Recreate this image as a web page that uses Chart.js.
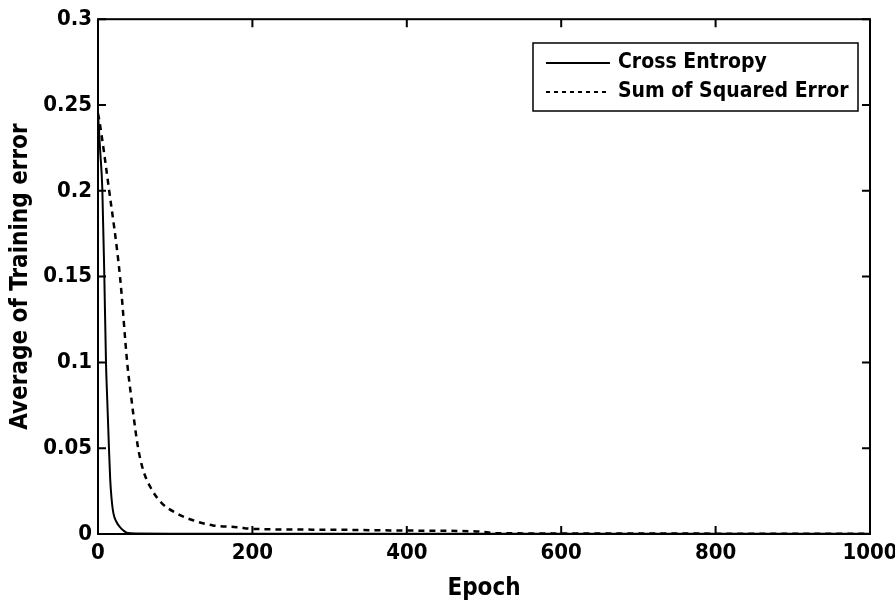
<!DOCTYPE html>
<html lang="en">
<head>
  <meta charset="UTF-8">
  <title>Average of Training error vs Epoch</title>
  <script src="https://cdn.jsdelivr.net/npm/chart.js"></script>
  <style>
    html, body {
      margin: 0;
      padding: 0;
      background: #fff;
    }
    #wrap {
      width: 895px;
      height: 603px;
    }
  </style>
</head>
<body>
  <div id="wrap"><canvas id="errChart" width="895" height="603"></canvas></div>

  <script>
    // values
    const ceEpochs = [0, 3, 5.6, 8.2, 10.4, 12, 14.2, 15.8, 17.5, 20, 24, 28.5, 33, 37, 50, 100, 1000];
    const ceValues = [0.245, 0.222, 0.201, 0.15, 0.099, 0.078, 0.05, 0.032, 0.021, 0.012, 0.007, 0.004, 0.002, 0.0008, 0.0003, 0.0002, 0.0001];

    const sseEpochs = [0, 1.7, 14.2, 28.5, 38, 42.7, 45.7, 52, 58.7, 69.5, 82.5, 102, 123, 149, 180, 200, 300, 400, 490, 520, 1000];
    const sseValues = [0.245, 0.241, 0.201, 0.15, 0.099, 0.081, 0.07, 0.05, 0.037, 0.026, 0.018, 0.012, 0.008, 0.005, 0.004, 0.003, 0.0025, 0.002, 0.0015, 0.0004, 0.0002];

    const xTicks = [0, 200, 400, 600, 800, 1000];
    const yTicks = [0, 0.05, 0.1, 0.15, 0.2, 0.25, 0.3];

    const FONT = "'Liberation Sans Narrow', 'DejaVu Sans Condensed', sans-serif";

    function toPoints(xs, ys) {
      return xs.map((x, i) => ({ x: x, y: ys[i] }));
    }

    // box around the plot with inward ticks on all four sides (MATLAB style)
    const boxPlugin = {
      id: 'boxTicks',
      afterDatasetsDraw(chart) {
        const ctx = chart.ctx;
        const a = chart.chartArea;
        const xs = chart.scales.x;
        const ys = chart.scales.y;
        const len = 8;
        ctx.save();
        ctx.strokeStyle = '#000';
        ctx.lineWidth = 2;
        ctx.setLineDash([]);
        ctx.strokeRect(a.left, a.top, a.right - a.left, a.bottom - a.top);
        ctx.beginPath();
        xTicks.forEach(v => {
          const px = xs.getPixelForValue(v);
          ctx.moveTo(px, a.bottom); ctx.lineTo(px, a.bottom - len);
          ctx.moveTo(px, a.top); ctx.lineTo(px, a.top + len);
        });
        yTicks.forEach(v => {
          const py = ys.getPixelForValue(v);
          ctx.moveTo(a.left, py); ctx.lineTo(a.left + len, py);
          ctx.moveTo(a.right, py); ctx.lineTo(a.right - len, py);
        });
        ctx.stroke();

        // legend box in the upper right corner
        const bx = 533, by = 43, bw = 325, bh = 68;
        ctx.fillStyle = '#fff';
        ctx.fillRect(bx, by, bw, bh);
        ctx.lineWidth = 1.5;
        ctx.strokeRect(bx, by, bw, bh);
        ctx.font = 'bold 21px ' + FONT;
        ctx.textBaseline = 'middle';
        ctx.textAlign = 'left';
        chart.data.datasets.forEach((ds, i) => {
          const cy = by + 20 + i * 29;
          ctx.beginPath();
          ctx.lineWidth = 2;
          ctx.setLineDash(ds.borderDash ? [4, 4] : []);
          ctx.moveTo(bx + 13, cy);
          ctx.lineTo(bx + 77, cy);
          ctx.stroke();
          ctx.setLineDash([]);
          ctx.fillStyle = '#000';
          ctx.fillText(ds.label, bx + 85, cy);
        });
        ctx.restore();
      }
    };

    const ctx = document.getElementById('errChart').getContext('2d');
    new Chart(ctx, {
      type: 'scatter',
      data: {
        datasets: [
          {
            label: 'Cross Entropy',
            data: toPoints(ceEpochs, ceValues),
            showLine: true,
            borderColor: '#000',
            borderWidth: 2,
            pointRadius: 0,
            cubicInterpolationMode: 'monotone'
          },
          {
            label: 'Sum of Squared Error',
            data: toPoints(sseEpochs, sseValues),
            showLine: true,
            borderColor: '#000',
            borderWidth: 2.5,
            borderDash: [6, 5],
            pointRadius: 0,
            cubicInterpolationMode: 'monotone'
          }
        ]
      },
      options: {
        responsive: false,
        animation: false,
        layout: { padding: { top: 18, right: 25, left: 0, bottom: 0 } },
        plugins: {
          legend: { display: false },
          tooltip: { enabled: false }
        },
        scales: {
          x: {
            type: 'linear',
            min: 0,
            max: 1000,
            afterBuildTicks: s => { s.ticks = xTicks.map(v => ({ value: v })); },
            afterFit: s => { s.height = 69; s.paddingRight = 0; s.paddingLeft = 0; },
            grid: { display: false, drawTicks: false },
            border: { display: false },
            ticks: {
              color: '#000',
              padding: 6,
              maxRotation: 0,
              font: { family: FONT, size: 22, weight: 'bold' },
              callback: v => String(v)
            },
            title: {
              display: true,
              text: 'Epoch',
              color: '#000',
              padding: { top: 0, bottom: 0 },
              font: { family: FONT, size: 24, weight: 'bold' }
            }
          },
          y: {
            type: 'linear',
            min: 0,
            max: 0.3,
            afterBuildTicks: s => { s.ticks = yTicks.map(v => ({ value: v })); },
            afterFit: s => { s.width = 98; },
            grid: { display: false, drawTicks: false },
            border: { display: false },
            ticks: {
              color: '#000',
              padding: 6,
              font: { family: FONT, size: 22, weight: 'bold' },
              callback: v => String(+v.toFixed(2))
            },
            title: {
              display: true,
              text: 'Average of Training error',
              color: '#000',
              padding: { top: 6, bottom: 0 },
              font: { family: FONT, size: 24, weight: 'bold' }
            }
          }
        }
      },
      plugins: [boxPlugin]
    });
  </script>
</body>
</html>
